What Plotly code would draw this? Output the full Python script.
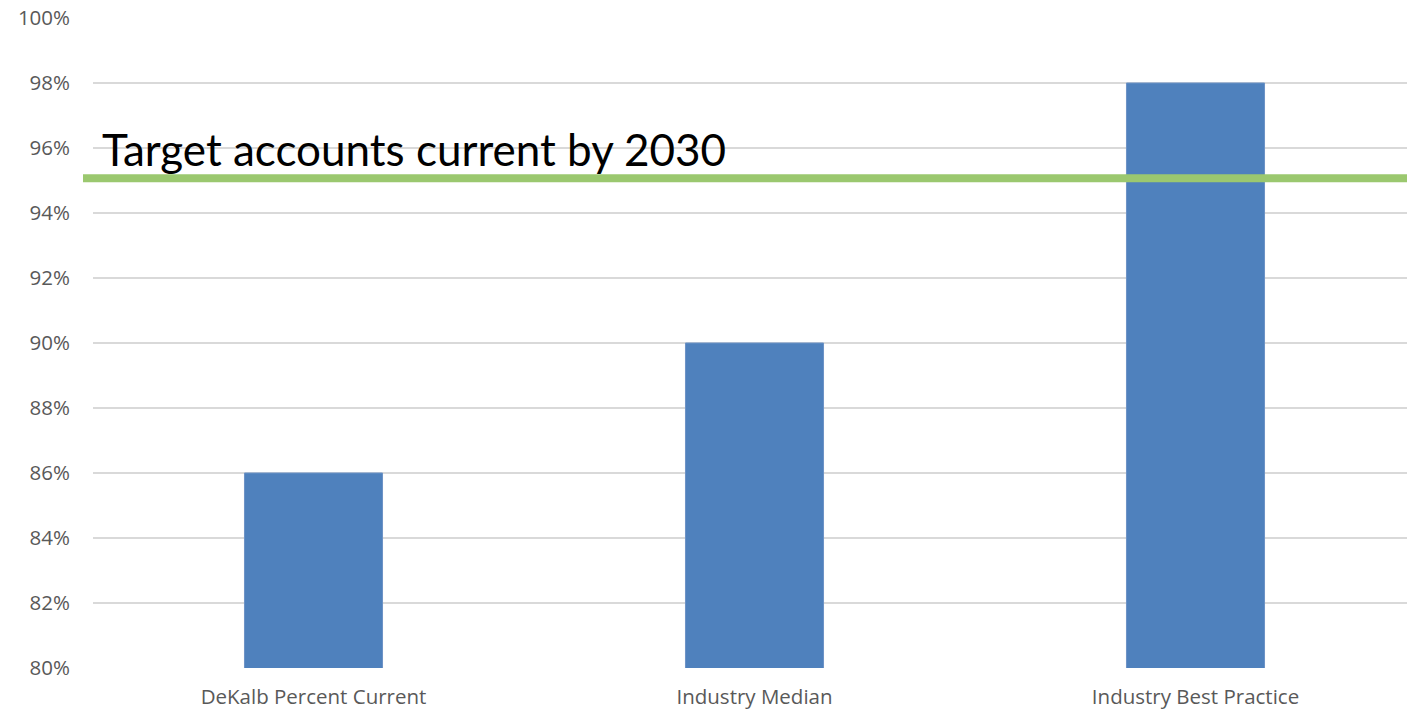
import plotly.graph_objects as go

categories = ["DeKalb Percent Current", "Industry Median", "Industry Best Practice"]
values = [86, 90, 98]
target_value = 95.07
target_label = "Target accounts current by 2030"
tick_vals = [80, 82, 84, 86, 88, 90, 92, 94, 96, 98, 100]

W, H = 1407, 711
ML, MT, MB, MR = 93, 18, 43, 0
plot_w = W - ML - MR

fig = go.Figure()
fig.add_trace(go.Bar(
    x=list(range(len(categories))), y=values,
    width=0.313,
    marker=dict(color="#4F81BD", line=dict(color="#6C93C6", width=1)),
    hoverinfo="skip",
))

fig.add_shape(type="line", xref="paper", yref="y",
              x0=(83 - ML) / plot_w, x1=1.0, y0=target_value, y1=target_value,
              line=dict(color="#9BC86F", width=8), layer="above")

fig.add_annotation(text=target_label, xref="paper", yref="y",
                   x=(100 - ML) / plot_w, y=target_value, xanchor="left", yanchor="bottom",
                   yshift=1, showarrow=False,
                   font=dict(family="Lato, Open Sans, sans-serif", size=44, color="#000000"))

fig.update_layout(
    width=W, height=H,
    margin=dict(l=ML, r=MR, t=MT, b=MB, pad=0),
    plot_bgcolor="white", paper_bgcolor="white",
    showlegend=False,
    font=dict(family="Open Sans, sans-serif", color="#595959", size=20.5),
    xaxis=dict(
        range=[-0.5, -0.5 + plot_w / 441.0],
        tickmode="array", tickvals=list(range(len(categories))), ticktext=categories,
        showgrid=False, zeroline=False, showline=False, ticks="",
        ticklabelstandoff=14,
        tickfont=dict(family="Open Sans, sans-serif", size=20.5, color="#595959"),
    ),
    yaxis=dict(
        range=[80, 100], tickmode="array", tickvals=tick_vals,
        ticktext=[f"{v}%" for v in tick_vals],
        showgrid=True, gridcolor="#D9D9D9", gridwidth=1.5,
        zeroline=False, showline=False, ticks="",
        ticklabelstandoff=22,
        tickfont=dict(family="Open Sans, sans-serif", size=20.5, color="#595959"),
    ),
)

fig.write_html("out.html")
